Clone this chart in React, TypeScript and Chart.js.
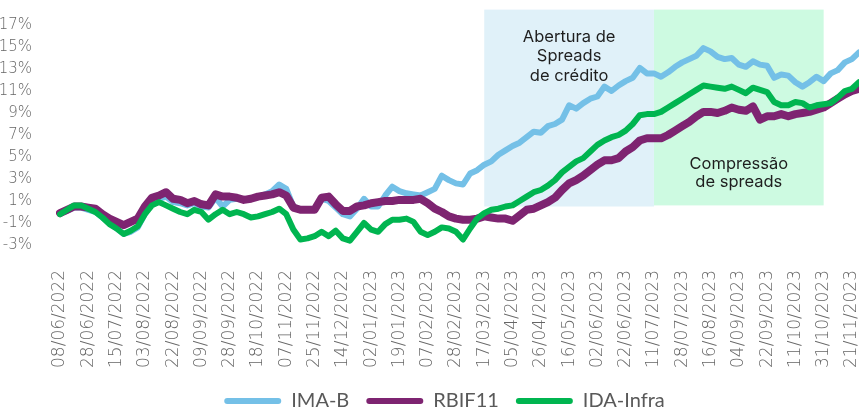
import React, { useEffect, useRef } from "react";
import { Chart, registerables } from "chart.js";

Chart.register(...registerables);

const tickLabels = [
  "08/06/2022", "28/06/2022", "15/07/2022", "03/08/2022", "22/08/2022", "09/09/2022",
  "28/09/2022", "18/10/2022", "07/11/2022", "25/11/2022", "14/12/2022", "02/01/2023",
  "19/01/2023", "07/02/2023", "28/02/2023", "17/03/2023", "05/04/2023", "26/04/2023",
  "16/05/2023", "02/06/2023", "22/06/2023", "11/07/2023", "28/07/2023", "16/08/2023",
  "04/09/2023", "22/09/2023", "11/10/2023", "31/10/2023", "21/11/2023",
];
const pointsPerTick = 4;

const imaB = [
  -0.1, 0.1, 0.4, 0.4, 0.2, 0.0, -0.5, -1.0, -1.5, -2.0,
  -1.8, -1.4, -0.2, 0.9, 1.2, 1.4, 0.9, 0.8, 0.6, 0.8,
  0.5, 0.4, 1.3, 0.5, 1.1, 1.2, 1.1, 1.2, 1.4, 1.6,
  1.9, 2.5, 2.1, 0.5, 0.2, 0.2, 0.3, 1.2, 1.0, 0.4,
  -0.2, -0.4, 0.3, 1.2, 0.5, 0.5, 1.5, 2.3, 1.9, 1.7,
  1.6, 1.5, 1.8, 2.1, 3.3, 2.9, 2.6, 2.5, 3.5, 3.8,
  4.3, 4.6, 5.2, 5.6, 6.0, 6.3, 6.8, 7.3, 7.2, 7.8,
  8.0, 8.4, 9.7, 9.4, 9.9, 10.3, 10.5, 11.4, 11.0, 11.5,
  11.9, 12.2, 13.1, 12.6, 12.6, 12.3, 12.7, 13.2, 13.6, 13.9,
  14.2, 14.9, 14.6, 14.1, 13.9, 14.0, 13.4, 13.2, 13.7, 13.4,
  13.3, 12.2, 12.5, 12.4, 11.8, 11.4, 11.8, 12.3, 11.9, 12.6,
  12.9, 13.6, 13.9, 14.5,
];

const rbif11 = [
  -0.1, 0.2, 0.5, 0.5, 0.4, 0.3, -0.2, -0.6, -0.9, -1.2,
  -0.9, -0.6, 0.5, 1.3, 1.5, 1.8, 1.2, 1.1, 0.8, 1.0,
  0.7, 0.6, 1.6, 1.4, 1.4, 1.3, 1.1, 1.2, 1.4, 1.5,
  1.6, 1.8, 1.5, 0.4, 0.2, 0.2, 0.2, 1.3, 1.4, 0.7,
  0.1, 0.1, 0.5, 0.6, 0.8, 0.9, 1.0, 1.0, 1.1, 1.1,
  1.1, 1.2, 0.8, 0.3, 0.0, -0.4, -0.6, -0.7, -0.7, -0.6,
  -0.4, -0.5, -0.6, -0.6, -0.8, -0.3, 0.2, 0.3, 0.6, 0.9,
  1.3, 2.0, 2.6, 2.9, 3.3, 3.8, 4.3, 4.7, 4.7, 4.9,
  5.5, 5.9, 6.5, 6.7, 6.7, 6.7, 7.0, 7.4, 7.8, 8.2,
  8.7, 9.1, 9.1, 9.0, 9.2, 9.5, 9.3, 9.2, 9.6, 8.4,
  8.7, 8.7, 8.9, 8.7, 8.9, 9.0, 9.1, 9.3, 9.5, 9.9,
  10.3, 10.7, 11.0, 11.2,
];

const idaInfra = [
  -0.2, 0.2, 0.6, 0.6, 0.3, 0.0, -0.5, -1.1, -1.5, -2.0,
  -1.7, -1.3, -0.2, 0.6, 0.9, 0.6, 0.3, 0.0, -0.2, 0.2,
  0.0, -0.7, -0.2, 0.2, -0.2, 0.0, -0.2, -0.5, -0.4, -0.2,
  0.0, 0.3, -0.2, -1.6, -2.5, -2.4, -2.2, -1.8, -2.2, -1.7,
  -2.4, -2.6, -1.8, -1.0, -1.6, -1.8, -1.1, -0.7, -0.7, -0.6,
  -0.9, -1.8, -2.1, -1.8, -1.4, -1.5, -1.8, -2.5, -1.5, -0.6,
  -0.1, 0.2, 0.3, 0.5, 0.6, 1.0, 1.4, 1.8, 2.0, 2.4,
  2.9, 3.6, 4.1, 4.6, 4.9, 5.5, 6.1, 6.5, 6.8, 7.0,
  7.4, 8.0, 8.8, 8.9, 8.9, 9.1, 9.5, 9.9, 10.3, 10.7,
  11.1, 11.5, 11.4, 11.3, 11.2, 11.4, 11.1, 10.8, 11.3, 11.1,
  10.9, 10.0, 9.7, 9.7, 10.0, 9.9, 9.5, 9.7, 9.8, 9.9,
  10.4, 11.0, 11.2, 11.8,
];

const seriesNames = ["IMA-B", "RBIF11", "IDA-Infra"];
const seriesColors = ["#74C0E7", "#7E2471", "#00B550"];
const seriesWidths = [6, 8, 6];

const yTicks = [-3, -1, 1, 3, 5, 7, 9, 11, 13, 15, 17];

// shaded periods
const regionStart = ["17/03/2023", "11/07/2023"];
const regionEnd = ["11/07/2023", "31/10/2023"];
const regionTop = [18.4, 18.4];
const regionBottom = [0.5, 0.6];
const regionColors = ["#E0F1F9", "#CDFAE1"];
const regionTexts = [["Abertura de", "Spreads", "de crédito"], ["Compressão", "de spreads"]];

export default function App() {
  const ref = useRef<HTMLCanvasElement>(null);

  useEffect(() => {
    const canvas = ref.current;
    if (!canvas) return;
    const labels = imaB.map((_, i) =>
      i % pointsPerTick === 0 && tickLabels[i / pointsPerTick] ? tickLabels[i / pointsPerTick] : ""
    );
    const idxOf = (d: string) => tickLabels.indexOf(d) * pointsPerTick;

    const regionsPlugin = {
      id: "regions",
      afterLayout(chart: any) {
        // legend sits slightly right of centre in the reference
        if (chart.legend) {
          chart.legend.left += 15;
          chart.legend.right += 15;
        }
      },
      beforeDatasetsDraw(chart: any) {
        const { ctx, scales } = chart;
        const x = scales.x;
        const y = scales.y;
        ctx.save();
        regionStart.forEach((s, k) => {
          const x0 = x.getPixelForValue(idxOf(s));
          const x1 = x.getPixelForValue(idxOf(regionEnd[k]));
          const y0 = y.getPixelForValue(regionTop[k]);
          const y1 = y.getPixelForValue(regionBottom[k]);
          ctx.fillStyle = regionColors[k];
          ctx.fillRect(x0, y0, x1 - x0, y1 - y0);
        });
        ctx.fillStyle = "#1E1E1E";
        ctx.font = "16.5px Inter, 'Noto Sans', sans-serif";
        ctx.textAlign = "center";
        ctx.textBaseline = "middle";
        {
          const cx = (x.getPixelForValue(idxOf(regionStart[0])) + x.getPixelForValue(idxOf(regionEnd[0]))) / 2;
          const top = y.getPixelForValue(regionTop[0]);
          regionTexts[0].forEach((t, j) => ctx.fillText(t, cx, top + 27 + j * 19.5));
        }
        {
          const cx = (x.getPixelForValue(idxOf(regionStart[1])) + x.getPixelForValue(idxOf(regionEnd[1]))) / 2;
          const bottom = y.getPixelForValue(regionBottom[1]);
          const n = regionTexts[1].length;
          regionTexts[1].forEach((t, j) => ctx.fillText(t, cx, bottom - 23 - (n - 1 - j) * 18.5));
        }
        ctx.restore();
      },
    };

    const data = [imaB, rbif11, idaInfra];
    const chart = new Chart(canvas, {
      type: "line",
      data: {
        labels,
        datasets: data.map((d, k) => ({
          label: seriesNames[k],
          data: d,
          borderColor: seriesColors[k],
          backgroundColor: seriesColors[k],
          borderWidth: seriesWidths[k],
          pointRadius: 0,
          tension: 0,
          order: 3 - k,
          borderJoinStyle: "round" as const,
          borderCapStyle: "round" as const,
        })),
      },
      options: {
        animation: false,
        responsive: true,
        maintainAspectRatio: false,
        layout: { padding: { top: 25, bottom: -12, left: 0, right: 0 } },
        plugins: {
          tooltip: { enabled: false },
          legend: {
            position: "bottom",
            labels: {
              boxWidth: 57,
              boxHeight: 6,
              padding: 17,
              color: "#595959",
              font: { family: "Lato, 'Liberation Sans', sans-serif", size: 20 },
              useBorderRadius: true,
              borderRadius: 3,
              sort: (a: any, b: any) => a.datasetIndex - b.datasetIndex,
              generateLabels: (chart: any) =>
                (Chart.defaults.plugins.legend.labels as any)
                  .generateLabels(chart)
                  .map((l: any) => ({ ...l, lineWidth: 0, borderRadius: 3 })),
            },
          },
        },
        scales: {
          x: {
            type: "category",
            grid: { display: false },
            border: { display: false },
            ticks: {
              autoSkip: false,
              minRotation: 90,
              maxRotation: 90,
              padding: 17,
              color: "#666666",
              font: { family: "'DejaVu Sans', sans-serif", size: 17, weight: "200" as any },
            },
            afterFit: (s: any) => {
              s.height = 129;
              s.paddingLeft = 0;
              s.paddingRight = 0;
            },
          },
          y: {
            min: -3,
            max: 17,
            grid: { display: false },
            border: { display: false },
            afterBuildTicks: (s: any) => {
              s.ticks = yTicks.map((v) => ({ value: v }));
            },
            ticks: {
              padding: 20,
              color: "#666666",
              font: { family: "'DejaVu Sans', sans-serif", size: 15, weight: "200" as any },
              callback: (v: any) => `${v}%`,
            },
            afterFit: (s: any) => {
              s.width = 60;
              s.paddingTop = 0;
              s.paddingBottom = 0;
            },
          },
        },
      },
      plugins: [regionsPlugin],
    });
    return () => chart.destroy();
  }, []);

  return (
    <div style={{ position: "fixed", left: 0, top: 0, width: 859, height: 409, background: "#fff" }}>
      <canvas ref={ref} />
    </div>
  );
}
